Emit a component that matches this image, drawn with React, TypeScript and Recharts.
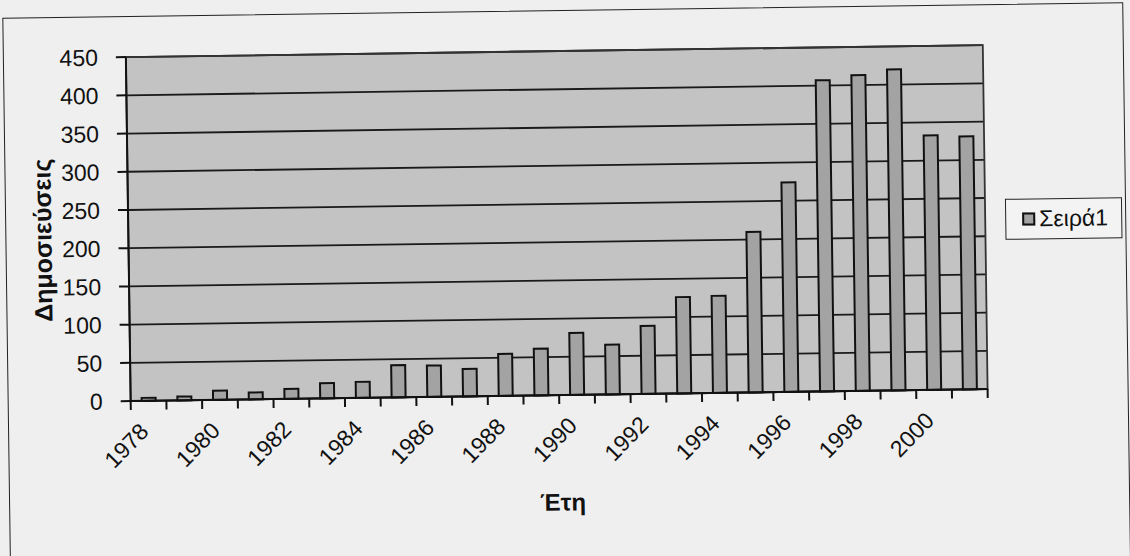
import React from "react";
import { BarChart, Bar, XAxis, YAxis, CartesianGrid, ReferenceArea } from "recharts";

const years = [1978, 1979, 1980, 1981, 1982, 1983, 1984, 1985, 1986, 1987, 1988, 1989, 1990, 1991, 1992, 1993, 1994, 1995, 1996, 1997, 1998, 1999, 2000, 2001];
const publications = [4, 5, 12, 9, 13, 20, 21, 42, 41, 36, 55, 61, 81, 65, 89, 126, 127, 210, 274, 407, 413, 420, 333, 331];
const yTicks = [0, 50, 100, 150, 200, 250, 300, 350, 400, 450];
const seriesName = "Σειρά1";
const xTitle = "Έτη";
const yTitle = "Δημοσιεύσεις";

const data = years.map((y, i) => ({ year: y, value: publications[i] }));

const FONT = "'Liberation Sans', Arial, sans-serif";
const W = 1130;
const H = 556;
const PLOT_LEFT = 129;
const PLOT_RIGHT = 986;
const BAND = (PLOT_RIGHT - PLOT_LEFT) / years.length;

const XTick = (props: any) => {
  const { x, y, payload } = props;
  const idx = payload.index;
  const left = x - BAND / 2;
  const right = x + BAND / 2;
  const ax = x + 1;
  const ay = y + 32;
  return (
    <g>
      <line x1={left} y1={y} x2={left} y2={y + 9} stroke="#111" strokeWidth={2} />
      {idx === years.length - 1 && (
        <line x1={right} y1={y} x2={right} y2={y + 9} stroke="#111" strokeWidth={2} />
      )}
      {idx % 2 === 0 && (
        <text
          x={ax}
          y={ay}
          textAnchor="end"
          fontSize={23}
          fontFamily={FONT}
          fill="#111"
          transform={`rotate(-45 ${ax} ${ay})`}
        >
          {payload.value}
        </text>
      )}
    </g>
  );
};

export default function App() {
  return (
    <div style={{ position: "absolute", left: 0, top: 0, width: W, height: H, background: "#efefef", overflow: "hidden" }}>
      <div style={{ position: "absolute", left: 0, top: 0, width: W, height: H, transform: "rotate(-0.8deg)", transformOrigin: "50% 50%" }}>
        <div style={{ position: "absolute", left: 6, top: 10, width: 1121, height: 600, border: "1.5px solid #222", boxSizing: "border-box" }} />
        <div style={{ position: "absolute", left: 0, top: 0 }}>
          <BarChart width={W} height={H} data={data} margin={{ top: 51, right: W - PLOT_RIGHT, bottom: 0, left: 0 }} barSize={14}>
            <CartesianGrid vertical={false} fill="#c3c3c3" fillOpacity={1} stroke="#1a1a1a" strokeWidth={1.8} />
            <ReferenceArea y1={0} y2={450} fill="none" stroke="#333" strokeWidth={1.8} />
            <XAxis
              dataKey="year"
              interval={0}
              height={161}
              tickSize={0}
              tickMargin={0}
              tickLine={false}
              tick={<XTick />}
              axisLine={{ stroke: "#111", strokeWidth: 2 }}
              label={{
                content: () => (
                  <text x={560} y={502} textAnchor="middle" dominantBaseline="central" fontSize={24} fontWeight="bold" fontFamily={FONT} fill="#111">
                    {xTitle}
                  </text>
                ),
              }}
            />
            <YAxis
              domain={[0, 450]}
              ticks={yTicks}
              interval={0}
              width={PLOT_LEFT}
              tickSize={10}
              tickMargin={18}
              tickLine={{ stroke: "#111", strokeWidth: 2 }}
              axisLine={{ stroke: "#111", strokeWidth: 2 }}
              tick={{ fontSize: 23, fontFamily: FONT, fill: "#111" }}
              label={{
                content: () => (
                  <text x={43} y={233} textAnchor="middle" dominantBaseline="central" fontSize={25} fontWeight="bold" fontFamily={FONT} fill="#111" transform="rotate(-90 43 233)">
                    {yTitle}
                  </text>
                ),
              }}
            />
            <Bar dataKey="value" name={seriesName} fill="#a3a3a3" stroke="#111" strokeWidth={2} isAnimationActive={false} />
          </BarChart>
        </div>
        <div style={{ position: "absolute", left: 1006, top: 205, width: 117, height: 41, border: "1.5px solid #222", boxSizing: "border-box", background: "#f3f3f3", display: "flex", alignItems: "center", fontFamily: FONT, fontSize: 23, color: "#111" }}>
          <span style={{ display: "inline-block", width: 9, height: 9, background: "#a3a3a3", border: "2px solid #111", marginLeft: 16, marginRight: 4 }} />
          <span>{seriesName}</span>
        </div>
      </div>
    </div>
  );
}
